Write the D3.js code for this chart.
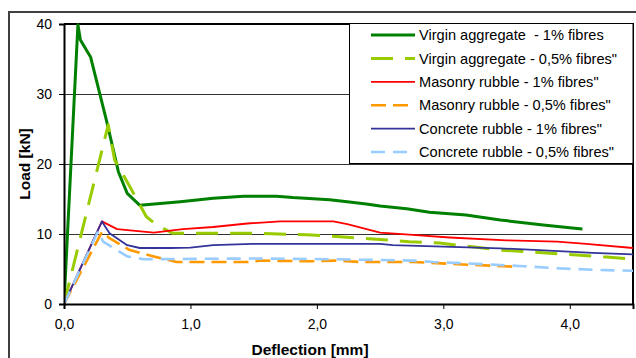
<!DOCTYPE html>
<html>
<head>
<meta charset="utf-8"/>
<title>Load - deflection</title>
<script src="https://cdn.jsdelivr.net/npm/d3@7"></script>
<style>
  body { margin: 0; background: #fff; }
  text { font-family: 'Liberation Sans', Arial, sans-serif; fill: #000; }
  .tick text { font-size: 14px; }
  .axisTitle { font-size: 15.5px; font-weight: bold; }
  .legendText { font-size: 14.6px; }
</style>
</head>
<body>
<div id="chart"></div>
<script>
// series names, as in the legend
var seriesNames = [
  "Virgin aggregate  - 1% fibres",
  "Virgin aggregate - 0,5% fibres\"",
  "Masonry rubble - 1% fibres\"",
  "Masonry rubble - 0,5% fibres\"",
  "Concrete rubble - 1% fibres\"",
  "Concrete rubble - 0,5% fibres\""
];

// deflection [mm] / load [kN]
var virgin1X   = [0, 0.11, 0.13, 0.21, 0.34, 0.43, 0.50, 0.60, 0.92, 1.18, 1.42, 1.68, 1.81, 2.10, 2.24, 2.39, 2.50, 2.71, 2.89, 3.18, 3.45, 3.79, 4.00, 4.10];
var virgin1Y   = [0, 39.9, 37.7, 35.3, 25.9, 18.9, 15.8, 14.1, 14.6, 15.1, 15.4, 15.4, 15.2, 14.9, 14.6, 14.3, 14.0, 13.6, 13.1, 12.7, 12.0, 11.3, 10.9, 10.7];
var virgin05X  = [0, 0.35, 0.40, 0.52, 0.65, 0.73, 0.86, 1.15, 1.50, 1.92, 2.18, 2.44, 2.73, 2.97, 3.45, 3.97, 4.29, 4.50];
var virgin05Y  = [0, 25.6, 20.6, 16.8, 12.5, 11.3, 10.1, 10.1, 10.1, 9.9, 9.6, 9.3, 8.9, 8.7, 7.7, 7.1, 6.7, 6.4];
var masonry1X  = [0, 0.30, 0.42, 0.71, 0.94, 1.18, 1.45, 1.71, 2.13, 2.24, 2.37, 2.50, 2.73, 3.05, 3.50, 3.90, 4.13, 4.50];
var masonry1Y  = [0, 11.8, 10.7, 10.2, 10.7, 11.0, 11.5, 11.8, 11.8, 11.4, 10.8, 10.2, 9.9, 9.5, 9.1, 8.9, 8.6, 8.0];
var masonry05X = [0, 0.30, 0.36, 0.52, 0.71, 0.89, 1.23, 1.45, 1.55, 1.97, 2.15, 2.34, 2.76, 3.21, 3.60];
var masonry05Y = [0, 10.3, 9.4, 7.7, 6.8, 6.0, 6.0, 6.0, 6.2, 6.1, 6.2, 6.0, 6.0, 5.6, 5.3];
var concrete1X = [0, 0.30, 0.36, 0.50, 0.60, 0.84, 1.00, 1.18, 1.49, 2.50, 2.60, 3.00, 3.45, 3.76, 4.18, 4.50];
var concrete1Y = [0, 11.8, 10.1, 8.4, 8.0, 8.0, 8.05, 8.4, 8.6, 8.6, 8.4, 8.2, 7.95, 7.7, 7.3, 7.1];
var concrete05X = [0, 0.27, 0.31, 0.50, 0.63, 1.50, 2.10, 2.44, 2.76, 2.92, 3.31, 3.63, 3.90, 4.24, 4.50];
var concrete05Y = [0, 10.4, 8.9, 6.8, 6.4, 6.5, 6.4, 6.3, 6.2, 6.0, 5.7, 5.4, 5.1, 4.85, 4.75];

var xTicks = [0, 1, 2, 3, 4];
var yTicks = [0, 10, 20, 30, 40];

var styles = [
  {color: "#008000", width: 3,   dash: null},
  {color: "#99cc00", width: 3,   dash: "22,12"},
  {color: "#ff0000", width: 1.8, dash: null},
  {color: "#ff9900", width: 2.6, dash: "15,7"},
  {color: "#333399", width: 1.8, dash: null},
  {color: "#99ccff", width: 2.6, dash: "14,8"}
];

var xs = [virgin1X, virgin05X, masonry1X, masonry05X, concrete1X, concrete05X];
var ys = [virgin1Y, virgin05Y, masonry1Y, masonry05Y, concrete1Y, concrete05Y];
var series = seriesNames.map(function(n, i) {
  return {name: n, style: styles[i], points: xs[i].map(function(x, j) { return [x, ys[i][j]]; })};
});

var W = 636, H = 358;
var plot = {left: 64, top: 24, right: 633, bottom: 304};

var svg = d3.select("#chart").append("svg")
  .attr("width", W).attr("height", H);

// outer chart frame
svg.append("rect")
  .attr("x", 9).attr("y", 12)
  .attr("width", 640).attr("height", 360)
  .attr("fill", "none").attr("stroke", "#404040").attr("stroke-width", 2);

var x = d3.scaleLinear().domain([0, 4.5]).range([plot.left, plot.right]);
var y = d3.scaleLinear().domain([0, 40]).range([plot.bottom, plot.top]);

// gridlines
svg.append("g").selectAll("line")
  .data(yTicks.filter(function(d) { return d > 0 && d < 40; }))
  .enter().append("line")
  .attr("x1", plot.left).attr("x2", plot.right)
  .attr("y1", d => y(d)).attr("y2", d => y(d))
  .attr("stroke", "#333").attr("stroke-width", 1)
  .attr("shape-rendering", "crispEdges");

// plot frame top / right
svg.append("path")
  .attr("d", "M" + plot.left + "," + plot.top + "H" + plot.right + "V" + plot.bottom)
  .attr("fill", "none").attr("stroke", "#000").attr("stroke-width", 1.5)
  .attr("shape-rendering", "crispEdges");

svg.append("clipPath").attr("id", "clip").append("rect")
  .attr("x", plot.left).attr("y", plot.top - 2)
  .attr("width", plot.right - plot.left).attr("height", plot.bottom - plot.top + 2);

var line = d3.line().x(d => x(d[0])).y(d => y(d[1]));

svg.append("g").attr("clip-path", "url(#clip)")
  .selectAll("path")
  .data(series)
  .enter().append("path")
  .attr("d", d => line(d.points))
  .attr("fill", "none")
  .attr("stroke", d => d.style.color)
  .attr("stroke-width", d => d.style.width)
  .attr("stroke-dasharray", d => d.style.dash)
  .attr("stroke-linejoin", "round");

// axes
var xAxis = svg.append("g")
  .attr("transform", "translate(0," + plot.bottom + ")")
  .call(d3.axisBottom(x).tickValues(xTicks).tickSize(5).tickPadding(10)
    .tickFormat(d => d3.format(".1f")(d).replace(".", ",")));
var yAxis = svg.append("g")
  .attr("transform", "translate(" + plot.left + ",0)")
  .call(d3.axisLeft(y).tickValues(yTicks).tickSize(5).tickPadding(7));

[xAxis, yAxis].forEach(function(a) {
  a.select(".domain").attr("stroke", "#000").attr("stroke-width", 2);
  a.selectAll(".tick line").attr("stroke", "#000");
  a.selectAll(".tick text").attr("font-family", null).attr("font-size", null);
});

svg.append("text").attr("class", "axisTitle")
  .attr("x", 310).attr("y", 355).attr("text-anchor", "middle")
  .text("Deflection [mm]");
svg.append("text").attr("class", "axisTitle")
  .attr("transform", "translate(30,164) rotate(-90)")
  .attr("text-anchor", "middle")
  .text("Load [kN]");

// legend
var legend = svg.append("g");
legend.append("rect")
  .attr("x", 349.5).attr("y", 23.5).attr("width", 283.5).attr("height", 140)
  .attr("fill", "#fff").attr("stroke", "#000").attr("stroke-width", 1);

var rows = legend.selectAll("g.row")
  .data(series)
  .enter().append("g").attr("class", "row")
  .attr("transform", (d, i) => "translate(0," + (35 + i * 23.4) + ")");
rows.append("line")
  .attr("x1", 371).attr("x2", 415)
  .attr("stroke", d => d.style.color)
  .attr("stroke-width", d => d.style.width)
  .attr("stroke-dasharray", d => d.style.dash);
rows.append("text").attr("class", "legendText")
  .attr("x", 419).attr("dy", "0.35em")
  .style("white-space", "pre")
  .text(d => d.name);
</script>
</body>
</html>
